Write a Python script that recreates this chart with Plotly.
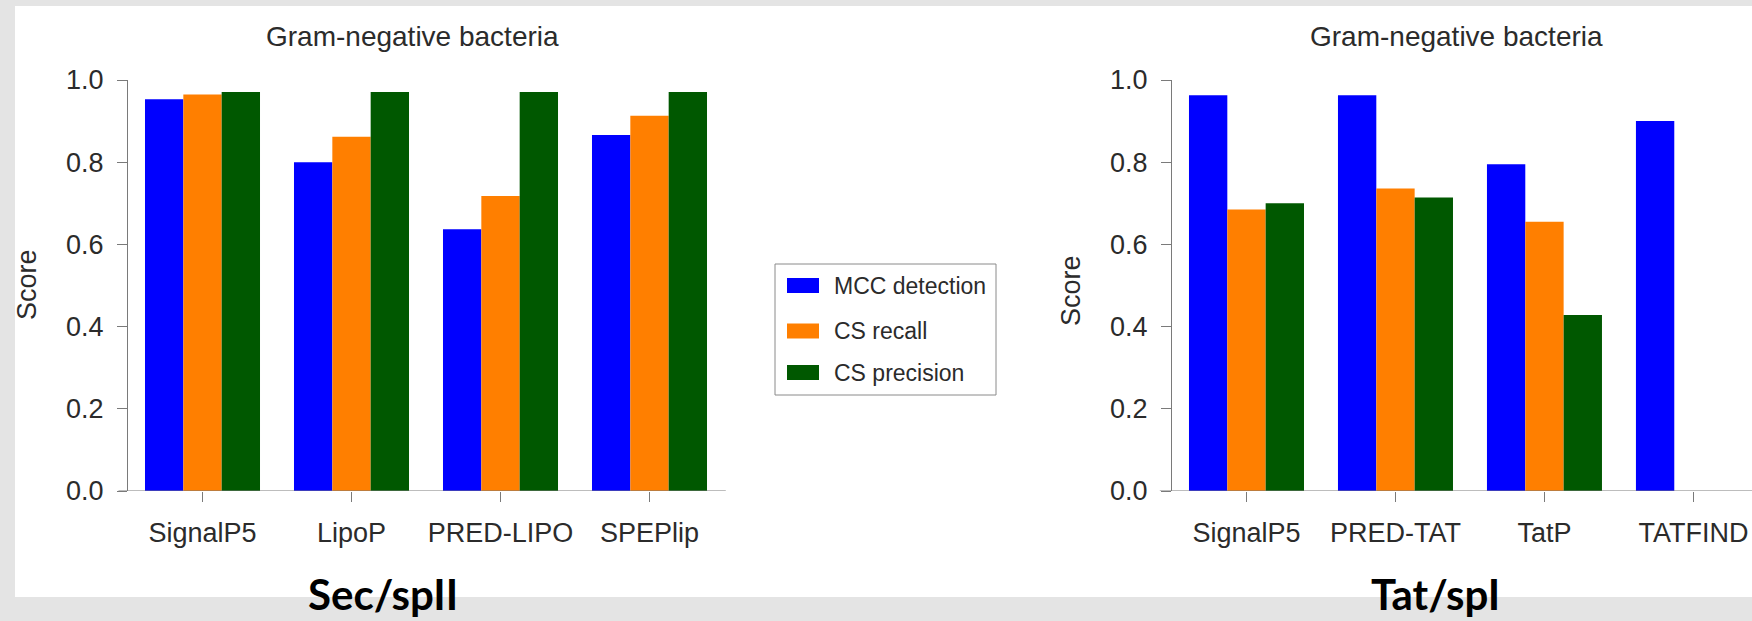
import plotly.graph_objects as go

W, H = 1752, 621

series_names = ["MCC detection", "CS recall", "CS precision"]
series_colors = ["#0000ff", "#ff7f00", "#005800"]

sec_categories = ["SignalP5", "LipoP", "PRED-LIPO", "SPEPlip"]
sec_mcc = [0.953, 0.800, 0.637, 0.866]
sec_recall = [0.965, 0.862, 0.718, 0.913]
sec_precision = [0.971, 0.971, 0.971, 0.971]

tat_categories = ["SignalP5", "PRED-TAT", "TatP", "TATFIND"]
tat_mcc = [0.963, 0.963, 0.795, 0.900]
tat_recall = [0.685, 0.736, 0.655, None]
tat_precision = [0.700, 0.714, 0.428, None]

y_ticks = [0.0, 0.2, 0.4, 0.6, 0.8, 1.0]
y_ticktext = ["0.0", "0.2", "0.4", "0.6", "0.8", "1.0"]

panel_title = "Gram-negative bacteria"
y_title = "Score"
sec_label = "Sec/spII"
tat_label = "Tat/spI"

FONT = "Liberation Sans, Arial, Helvetica, sans-serif"
TXT = "#2b2b2b"
AX = "#7a7a7a"

fig = go.Figure()
for name, color, vals in zip(series_names, series_colors, [sec_mcc, sec_recall, sec_precision]):
    fig.add_trace(go.Bar(x=sec_categories, y=vals, name=name, marker=dict(color=color, line=dict(width=0)),
                         xaxis="x", yaxis="y", showlegend=False))
for name, color, vals in zip(series_names, series_colors, [tat_mcc, tat_recall, tat_precision]):
    fig.add_trace(go.Bar(x=tat_categories, y=vals, name=name, marker=dict(color=color, line=dict(width=0)),
                         xaxis="x2", yaxis="y2", showlegend=False))

def px(x):
    return x / W

def py(y):
    return 1 - y / H

ydom = [py(491), py(80)]
xaxis_common = dict(type="category", ticks="outside", ticklen=10, tickcolor=AX, tickwidth=1,
                    showline=False, showgrid=False, zeroline=False, automargin=False,
                    ticklabelstandoff=8,
                    tickfont=dict(family=FONT, size=27, color=TXT), fixedrange=True)
yaxis_common = dict(range=[0, 1], tickvals=y_ticks, ticktext=y_ticktext, ticks="outside", ticklen=10,
                    tickcolor=AX, tickwidth=1, showline=True, linecolor=AX, linewidth=1,
                    showgrid=False, zeroline=False, automargin=False, domain=ydom,
                    ticklabelstandoff=8,
                    tickfont=dict(family=FONT, size=27, color=TXT), fixedrange=True)

shapes = [
    dict(type="rect", xref="paper", yref="paper", x0=px(15), x1=1.0, y0=py(597), y1=py(6),
         fillcolor="white", line=dict(width=0), layer="below"),
    dict(type="line", xref="x domain", yref="y", x0=-0.016, x1=1.003, y0=0, y1=0,
         line=dict(color=AX, width=1)),
    dict(type="line", xref="x2 domain", yref="y2", x0=-0.021, x1=1.0, y0=0, y1=0,
         line=dict(color=AX, width=1)),
    # legend box
    dict(type="rect", xref="paper", yref="paper", x0=px(775), x1=px(996), y0=py(395), y1=py(264),
         fillcolor="white", line=dict(color="#8a8a8a", width=1)),
]

annotations = [
    dict(text=panel_title, x=px(412), y=py(36), xref="paper", yref="paper", showarrow=False,
         xanchor="center", yanchor="middle", font=dict(family=FONT, size=28, color=TXT)),
    dict(text=panel_title, x=px(1456), y=py(36), xref="paper", yref="paper", showarrow=False,
         xanchor="center", yanchor="middle", font=dict(family=FONT, size=28, color=TXT)),
    dict(text=y_title, x=px(27), y=py(285), xref="paper", yref="paper", showarrow=False, textangle=-90,
         xanchor="center", yanchor="middle", font=dict(family=FONT, size=27, color=TXT)),
    dict(text=y_title, x=px(1071), y=py(291), xref="paper", yref="paper", showarrow=False, textangle=-90,
         xanchor="center", yanchor="middle", font=dict(family=FONT, size=27, color=TXT)),
    dict(text="<b>" + sec_label + "</b>", x=px(383), y=py(620), xref="paper", yref="paper", showarrow=False,
         xanchor="center", yanchor="bottom", borderpad=0,
         font=dict(family="Lato, Carlito, sans-serif", size=42, color="black")),
    dict(text="<b>" + tat_label + "</b>", x=px(1435), y=py(620), xref="paper", yref="paper", showarrow=False,
         xanchor="center", yanchor="bottom", borderpad=0,
         font=dict(family="Lato, Carlito, sans-serif", size=42, color="black")),
]

# custom legend
legend_rows_y = [285.5, 331, 372.5]
for name, color, ry in zip(series_names, series_colors, legend_rows_y):
    shapes.append(dict(type="rect", xref="paper", yref="paper", x0=px(787), x1=px(819),
                       y0=py(ry + 7.5), y1=py(ry - 7.5), fillcolor=color, line=dict(width=0)))
    annotations.append(dict(text=name, x=px(832), y=py(ry), xref="paper", yref="paper", showarrow=False,
                            xanchor="left", yanchor="middle", font=dict(family=FONT, size=23, color=TXT)))

fig.update_layout(
    width=W, height=H, margin=dict(l=0, r=0, t=0, b=0, pad=0),
    paper_bgcolor="#e4e4e4", plot_bgcolor="rgba(0,0,0,0)",
    barmode="group", bargap=0.228, bargroupgap=0,
    xaxis=dict(xaxis_common, domain=[px(128), px(724)], range=[-0.5, 3.5], anchor="y"),
    yaxis=dict(yaxis_common, anchor="x"),
    xaxis2=dict(xaxis_common, domain=[px(1172), 1.0], range=[-0.5, 3.393], anchor="y2"),
    yaxis2=dict(yaxis_common, anchor="x2"),
    shapes=shapes, annotations=annotations,
    showlegend=False,
)

fig.write_html("out.html")
